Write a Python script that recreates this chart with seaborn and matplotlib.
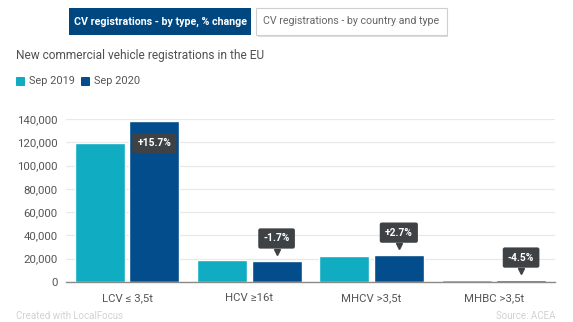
import matplotlib
matplotlib.use("Agg")
import matplotlib.pyplot as plt
from matplotlib.patches import Rectangle, FancyBboxPatch
from matplotlib.transforms import ScaledTranslation
import seaborn as sns
import pandas as pd

# Vehicle categories and registrations per period
categories = ["LCV \u2264 3,5t", "HCV \u226516t", "MHCV >3,5t", "MHBC >3,5t"]
sep_2019 = [119500, 18600, 22700, 2000]
sep_2020 = [138262, 18284, 23313, 1910]
periods = ["Sep 2019", "Sep 2020"]
y_ticks = [0, 20000, 40000, 60000, 80000, 100000, 120000, 140000]

TEAL = "#10acc1"
NAVY = "#034d8c"
TIP = "#3f4245"
GREY_TXT = "#555555"

sns.set_theme(style="white")
plt.rcParams["font.family"] = ["Roboto", "DejaVu Sans"]

W, H = 573, 322
fig = plt.figure(figsize=(W / 100, H / 100), dpi=100)


def fx(px):
    return px / W


def fy(py):
    return 1 - py / H


df = pd.DataFrame({
    "category": categories * 2,
    "period": [periods[0]] * 4 + [periods[1]] * 4,
    "value": sep_2019 + sep_2020,
})

ax = fig.add_axes([fx(66), fy(282), fx(555) - fx(66), fy(119) - fy(282)])
sns.barplot(data=df, x="category", y="value", hue="period", order=categories,
            hue_order=periods, palette=[TEAL, NAVY], width=0.89, gap=0.08,
            saturation=1, ax=ax, legend=False, zorder=2)

ax.set_xlim(-0.5, 3.5)
ax.set_ylim(0, 140000)
ax.set_yticks(y_ticks)
ax.set_yticklabels([f"{v:,}" for v in y_ticks])
ax.yaxis.grid(True, color="#e8e8e8", linewidth=0.9)
ax.set_axisbelow(True)
for side in ["top", "right", "left"]:
    ax.spines[side].set_visible(False)
ax.spines["bottom"].set_color("#8a8a8a")
ax.spines["bottom"].set_linewidth(1.0)
ax.tick_params(axis="both", length=0, colors=GREY_TXT, labelsize=8.2)
ax.tick_params(axis="y", pad=6)
ax.tick_params(axis="x", pad=8)
ax.set_xlabel("")
ax.set_ylabel("")

# Percentage change tooltips above the Sep 2020 bars
bars_2020 = ax.containers[1]
for bar, a, b in zip(bars_2020, sep_2019, sep_2020):
    pct = (b - a) / a * 100
    label = f"{pct:+.1f}%"
    xc = bar.get_x() + bar.get_width() / 2
    top = bar.get_height()
    inside = top > 0.9 * ax.get_ylim()[1]
    offset = -16 if inside else 16
    ax.annotate(label, xy=(xc, top), xytext=(0, offset), textcoords="offset points",
                ha="center", va="center", color="white", fontsize=7.4,
                fontweight="bold",
                bbox=dict(boxstyle="round,pad=0.5,rounding_size=0.2",
                          fc=TIP, ec="none"), zorder=5, annotation_clip=False)
    if not inside:
        ax.plot([xc], [top], marker="v", markersize=4.5, color=TIP,
                transform=ax.transData + ScaledTranslation(0, 6.6 / 72,
                                                           fig.dpi_scale_trans),
                clip_on=False, zorder=6)

# Tab buttons
fig.patches.append(Rectangle((fx(69), fy(35)), fx(251) - fx(69), fy(8) - fy(35),
                             transform=fig.transFigure, fc="#00467f", ec="none"))
fig.patches.append(Rectangle((fx(257.5), fy(36.5)), fx(448) - fx(257.5), fy(9.5) - fy(36.5),
                             transform=fig.transFigure, fc="#dcdcdc", ec="none"))
fig.patches.append(Rectangle((fx(256), fy(35)), fx(447) - fx(256), fy(8) - fy(35),
                             transform=fig.transFigure, fc="white", ec="#cfcfcf",
                             linewidth=0.8))
fig.text(fx(160), fy(21.5), "CV registrations - by type, % change", ha="center",
         va="center", color="white", fontsize=7.7, fontweight="bold")
fig.text(fx(351.5), fy(21.5), "CV registrations - by country and type", ha="center",
         va="center", color="#666666", fontsize=7.7)

# Title
fig.text(fx(16), fy(55), "New commercial vehicle registrations in the EU",
         ha="left", va="center", color="#505050", fontsize=8.6)

# Legend
legend_items = [(16, periods[0], TEAL), (81, periods[1], NAVY)]
for x0, txt, col in legend_items:
    fig.patches.append(FancyBboxPatch((fx(x0), fy(86)), fx(9), fy(77) - fy(86),
                                      boxstyle="round,pad=0,rounding_size=0.002",
                                      transform=fig.transFigure, fc=col, ec="none"))
    fig.text(fx(x0 + 13), fy(81.5), txt, ha="left", va="center",
             color=GREY_TXT, fontsize=7.9)

# Footer
fig.text(fx(16), fy(316), "Created with LocalFocus", ha="left", va="center",
         color="#d2d2d2", fontsize=7.0)
fig.text(fx(555), fy(316), "Source: ACEA", ha="right", va="center",
         color="#d2d2d2", fontsize=7.0)

fig.savefig("out.png", dpi=100, facecolor="white")
